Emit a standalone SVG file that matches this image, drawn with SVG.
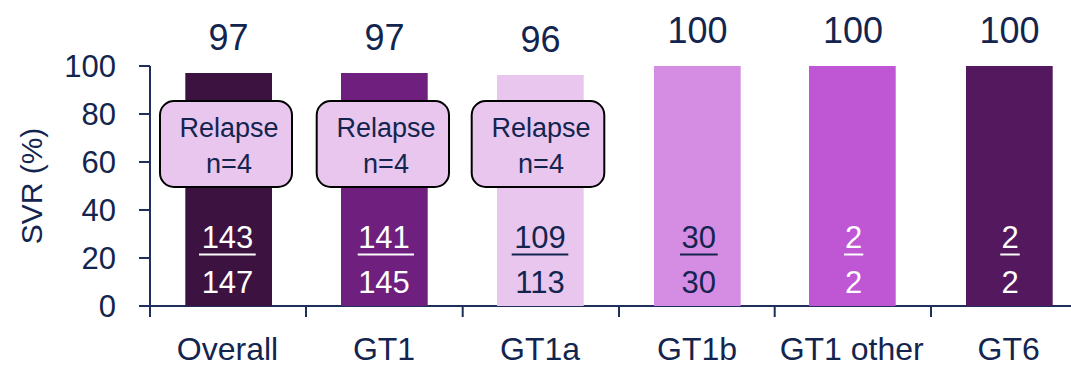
<svg xmlns="http://www.w3.org/2000/svg" width="1071" height="367" viewBox="0 0 1071 367">
<style>
text{font-family:"Liberation Sans",Arial,sans-serif;fill:#13254F;text-anchor:middle}
.val{font-size:36px}
.ytk{font-size:31px;text-anchor:end}
.cat{font-size:32px}
.frac{font-size:31px}
.w{fill:#FFFFFF}
.rel{font-size:27px}
.axis{stroke:#1F2F5C;stroke-width:2;fill:none}
.box{fill:#E9C6EE;stroke:#000;stroke-width:2}
.ul{stroke-width:2}
</style>
<rect width="1071" height="367" fill="#fff"/>
<g id="axes">
<line class="axis" x1="150" y1="66" x2="150" y2="317"/>
<line class="axis" x1="139" y1="306" x2="1071" y2="306"/>
<path class="axis" d="M139 66H150M139 114H150M139 162H150M139 210H150M139 258H150M306 306V317M462.7 306V317M619 306V317M774.7 306V317M931 306V317"/>
<text class="ytk" x="116" y="77">100</text>
<text class="ytk" x="116" y="125">80</text>
<text class="ytk" x="116" y="173">60</text>
<text class="ytk" x="116" y="221">40</text>
<text class="ytk" x="116" y="269">20</text>
<text class="ytk" x="116" y="317">0</text>
<text transform="translate(42,186) rotate(-90)" style="font-size:30px">SVR (%)</text>
</g>
<g id="bar-overall">
<rect x="185.3" y="73" width="86.7" height="233" fill="#3C1241"/>
<text class="val" x="228.5" y="50">97</text>
<text class="frac w" x="227.5" y="248">143</text>
<line class="ul" x1="199" y1="254.5" x2="255.7" y2="254.5" stroke="#fff"/>
<text class="frac w" x="227.5" y="293">147</text>
<text class="cat" x="227.5" y="360">Overall</text>
</g>
<g id="bar-gt1">
<rect x="341" y="73" width="86.7" height="233" fill="#6F1F7E"/>
<text class="val" x="384.5" y="50">97</text>
<text class="frac w" x="384" y="248">141</text>
<line class="ul" x1="357.7" y1="254.5" x2="414" y2="254.5" stroke="#fff"/>
<text class="frac w" x="384" y="293">145</text>
<text class="cat" x="384" y="360">GT1</text>
</g>
<g id="bar-gt1a">
<rect x="497" y="75" width="86.7" height="231" fill="#E9C6EE"/>
<text class="val" x="540.5" y="52">96</text>
<text class="frac" x="540" y="248">109</text>
<line class="ul" x1="511.7" y1="254.5" x2="568.3" y2="254.5" stroke="#13254F"/>
<text class="frac" x="540" y="293">113</text>
<text class="cat" x="540" y="360">GT1a</text>
</g>
<g id="bar-gt1b">
<rect x="654" y="66" width="86.7" height="240" fill="#D58DE3"/>
<text class="val" x="697.5" y="43">100</text>
<text class="frac" x="698.8" y="248">30</text>
<line class="ul" x1="680" y1="254.5" x2="717.7" y2="254.5" stroke="#13254F"/>
<text class="frac" x="698.8" y="293">30</text>
<text class="cat" x="697" y="360">GT1b</text>
</g>
<g id="bar-gt1other">
<rect x="809" y="66" width="86.7" height="240" fill="#BF56D4"/>
<text class="val" x="853" y="43">100</text>
<text class="frac w" x="853.7" y="248">2</text>
<line class="ul" x1="844" y1="254.5" x2="863.3" y2="254.5" stroke="#fff"/>
<text class="frac w" x="853.7" y="293">2</text>
<text class="cat" x="851.7" y="360">GT1 other</text>
</g>
<g id="bar-gt6">
<rect x="966" y="66" width="86.7" height="240" fill="#53185E"/>
<text class="val" x="1009.5" y="43">100</text>
<text class="frac w" x="1010" y="248">2</text>
<line class="ul" x1="1000.3" y1="254.5" x2="1019.7" y2="254.5" stroke="#fff"/>
<text class="frac w" x="1010" y="293">2</text>
<text class="cat" x="1008.7" y="360">GT6</text>
</g>
<g id="relapse-overall">
<rect class="box" x="160" y="101" width="132" height="86" rx="14"/>
<text class="rel" x="229" y="137">Relapse</text>
<text class="rel" x="229" y="173">n=4</text>
</g>
<g id="relapse-gt1">
<rect class="box" x="316.7" y="101" width="132.3" height="86" rx="14"/>
<text class="rel" x="386" y="137">Relapse</text>
<text class="rel" x="386" y="173">n=4</text>
</g>
<g id="relapse-gt1a">
<rect class="box" x="471.7" y="101" width="132.6" height="86" rx="14"/>
<text class="rel" x="541" y="137">Relapse</text>
<text class="rel" x="541" y="173">n=4</text>
</g>
</svg>
